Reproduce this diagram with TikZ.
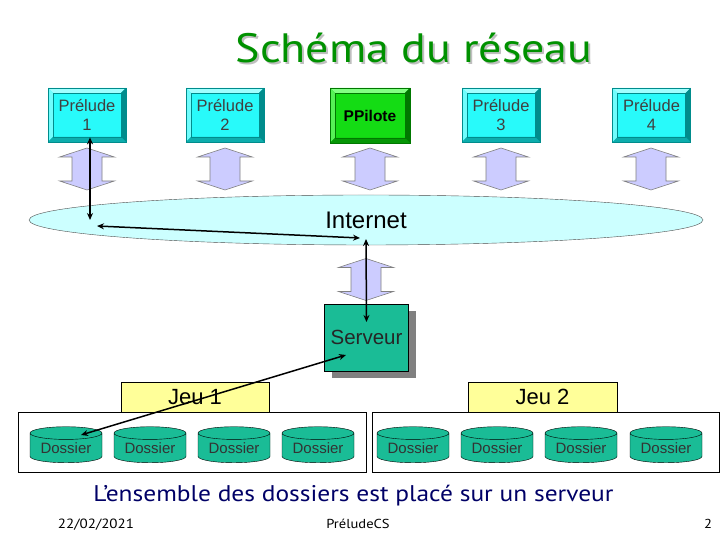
\documentclass[tikz,border=0pt]{standalone}
\usepackage{fontspec}
\setmainfont{Liberation Sans}
\newfontfamily\slidefont[FakeStretch=1.12]{PT Sans}
\usepackage{tikz}
\usetikzlibrary{shapes.geometric,arrows.meta,positioning,calc,shadows}

\definecolor{cyanface}{RGB}{40,250,250}
\definecolor{cyanlight}{RGB}{160,255,255}
\definecolor{cyandark}{RGB}{0,140,140}
\definecolor{greenface}{RGB}{20,220,20}
\definecolor{greenlight}{RGB}{130,255,130}
\definecolor{greendark}{RGB}{0,120,0}
\definecolor{lavender}{RGB}{204,204,255}
\definecolor{netblue}{RGB}{204,255,255}
\definecolor{servgreen}{RGB}{26,188,150}
\definecolor{jeuyellow}{RGB}{255,255,153}
\definecolor{titlegreen}{RGB}{0,145,0}
\definecolor{navy}{RGB}{0,0,102}

\tikzset{updown/.pic={
    \filldraw[fill=lavender, draw=black!50, line width=0.6pt]
      (0,21) -- (27.5,12) -- (15,12) -- (15,-12) -- (27.5,-12) -- (0,-21)
      -- (-27.5,-12) -- (-15,-12) -- (-15,12) -- (-27.5,12) -- cycle;}}

\begin{document}
\begin{tikzpicture}[x=1pt, y=1pt,
    bevel/.style n args={3}{rectangle, draw=#3, fill=#1, line width=0.8pt, inner sep=0pt, align=center,
      path picture={
        \fill[#2] (path picture bounding box.north west) -- (path picture bounding box.north east)
          -- ([shift={(-5pt,-5pt)}]path picture bounding box.north east) -- ([shift={(5pt,-5pt)}]path picture bounding box.north west) -- cycle;
        \fill[#2!60!#1] (path picture bounding box.north west) -- (path picture bounding box.south west)
          -- ([shift={(5pt,5pt)}]path picture bounding box.south west) -- ([shift={(5pt,-5pt)}]path picture bounding box.north west) -- cycle;
        \fill[#3!70!#1] (path picture bounding box.south west) -- (path picture bounding box.south east)
          -- ([shift={(-5pt,5pt)}]path picture bounding box.south east) -- ([shift={(5pt,5pt)}]path picture bounding box.south west) -- cycle;
        \fill[#3] (path picture bounding box.south east) -- (path picture bounding box.north east)
          -- ([shift={(-5pt,-5pt)}]path picture bounding box.north east) -- ([shift={(-5pt,5pt)}]path picture bounding box.south east) -- cycle;
        \draw[#3, line width=0.5pt] ([shift={(5pt,5pt)}]path picture bounding box.south west) rectangle ([shift={(-5pt,-5pt)}]path picture bounding box.north east);
      }},
    prelude/.style={bevel={cyanface}{cyanlight}{cyandark}, minimum width=78pt, minimum height=54pt,
      text=black!75, font=\fontsize{16.5}{19}\selectfont},
    pilote/.style={bevel={greenface}{greenlight}{greendark}, minimum width=80pt, minimum height=55pt,
      font=\bfseries\fontsize{15.5}{17}\selectfont},
    cloudnet/.style={ellipse, draw=black!70, fill=netblue, minimum width=674pt, minimum height=50pt, inner sep=0pt,
      font=\fontsize{24}{27}\selectfont},
    serveur/.style={rectangle, draw, fill=servgreen, minimum width=84pt, minimum height=67pt,
      drop shadow={shadow xshift=7pt, shadow yshift=-7pt, fill=black!50, opacity=1},
      text=black!85, font=\fontsize{20.5}{24}\selectfont},
    jeu/.style={rectangle, draw, fill=jeuyellow, minimum height=30pt, inner sep=0pt, font=\fontsize{22}{24}\selectfont},
    group/.style={rectangle, draw, fill=white, minimum width=348pt, minimum height=60pt},
    dossier/.style={cylinder, shape border rotate=90, aspect=0.25, draw, fill=servgreen, minimum width=72pt,
      minimum height=36pt, inner sep=0pt, text=black!80, font=\fontsize{15}{17}\selectfont},
    link/.style={draw, line width=1.5pt, {Stealth[length=7pt,width=6pt]}-{Stealth[length=7pt,width=6pt]}}]

    \useasboundingbox (0,0) rectangle (720,540);

    % title
    \node [anchor=base, text=black!25, font=\slidefont\fontsize{41}{46}\selectfont] (titleshadow) at (416,475) {Schéma du réseau};
    \node [anchor=base, text=titlegreen, font=\slidefont\fontsize{41}{46}\selectfont] (title) at (414,477) {Schéma du réseau};

    % postes
    \node [prelude] (p1) at (87,425) {Prélude\\1};
    \node [prelude] (p2) at (225,425) {Prélude\\2};
    \node [pilote] (pp) at (370,424.5) {PPilote};
    \node [prelude] (p3) at (501,425) {Prélude\\3};
    \node [prelude] (p4) at (651.5,425) {Prélude\\4};

    \foreach \x in {87,225,370,501,651}
        \pic at (\x,371) {updown};

    \node [cloudnet] (net) at (366,320) {Internet};
    \pic at (366,260.5) {updown};

    \node [serveur] (srv) at (366.5,202.5) {Serveur};

    % jeux de dossiers
    \node [group] (g1) at (192.5,98) {};
    \node [group, minimum width=347pt] (g2) at (545.5,98) {};
    \node [jeu, minimum width=148pt] (jeu1) at (195,143) {Jeu 1};
    \node [jeu, minimum width=149pt] (jeu2) at (542.5,143) {Jeu 2};

    \foreach \x [count=\i] in {66,150,234,318,413,497,581,666}
        \node [dossier] (d\i) at (\x,92) {Dossier};

    \coordinate (netA) at (90,320);
    \coordinate (netB) at (97,314);
    \coordinate (netC) at (360,302);
    \coordinate (netD) at (366,301);

    \draw [link] ([xshift=3pt,yshift=5pt]p1.south) -- (netA);
    \draw [link] (netB) -- (netC);
    \draw [link] (netD) -- ([yshift=15.5pt]srv.center);
    \draw [link] ([shift={(-20.5pt,-17.5pt)}]srv.center) -- ([shift={(15pt,13pt)}]d1.center);

    % bas de page
    \node [anchor=base, text=navy, font=\slidefont\fontsize{22.7}{26}\selectfont] (caption) at (353.5,38) {L’ensemble des dossiers est placé sur un serveur};
    \node [anchor=base, font=\slidefont\fontsize{13.4}{15}\selectfont] (date) at (96,11) {22/02/2021};
    \node [anchor=base, font=\slidefont\fontsize{13}{15}\selectfont] (foot) at (358,11) {PréludeCS};
    \node [anchor=base, font=\slidefont\fontsize{13}{15}\selectfont] (page) at (708,11) {2};
\end{tikzpicture}
\end{document}
